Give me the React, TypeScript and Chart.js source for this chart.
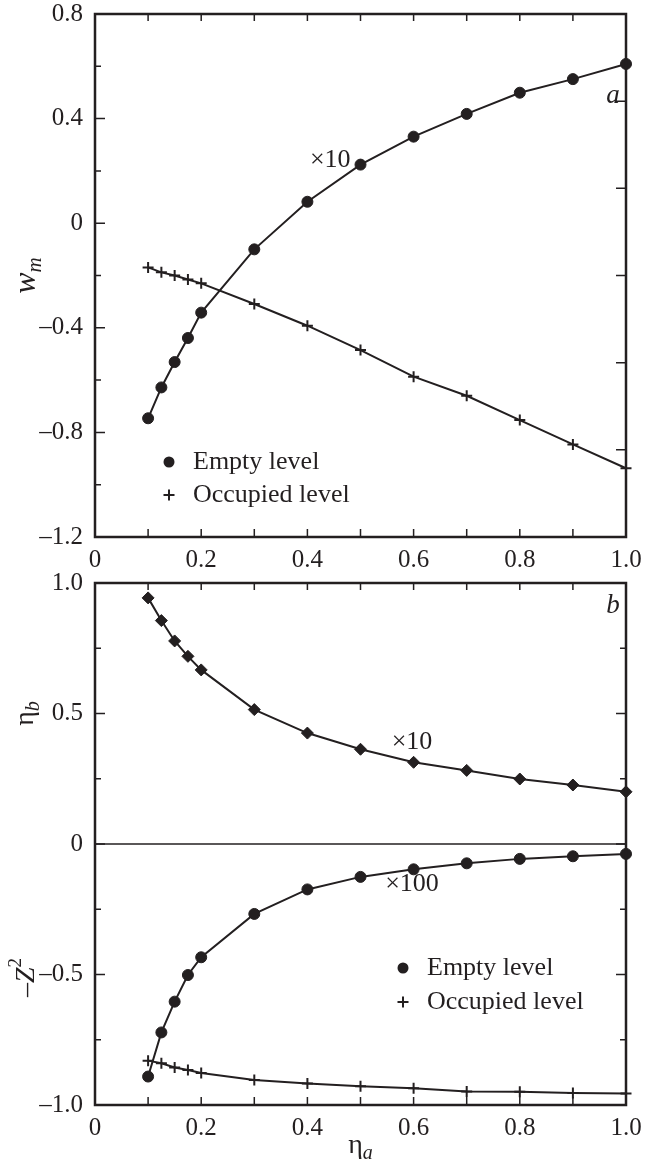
import React, { useEffect, useRef } from 'react';
import { Chart, registerables } from 'chart.js';

Chart.register(...registerables);

// ---------- data ----------
const ETA_A = [0.1, 0.125, 0.15, 0.175, 0.2, 0.3, 0.4, 0.5, 0.6, 0.7, 0.8, 0.9, 1.0];

// panel a: w_m
const WM_EMPTY = [-0.746, -0.628, -0.531, -0.439, -0.342, -0.1, 0.082, 0.224, 0.331, 0.418, 0.499, 0.551, 0.609];
const WM_OCCUPIED = [-0.169, -0.188, -0.2, -0.215, -0.23, -0.309, -0.392, -0.485, -0.587, -0.66, -0.753, -0.846, -0.937];

// panel b: eta_b (upper half) and -Z^2 (lower half)
const ETA_B = [0.943, 0.856, 0.778, 0.719, 0.667, 0.515, 0.425, 0.363, 0.313, 0.282, 0.249, 0.226, 0.2];
const Z2_EMPTY = [-0.891, -0.722, -0.604, -0.502, -0.434, -0.268, -0.174, -0.126, -0.097, -0.074, -0.057, -0.047, -0.038];
const Z2_OCCUPIED = [-0.83, -0.84, -0.856, -0.866, -0.877, -0.904, -0.918, -0.928, -0.936, -0.948, -0.949, -0.954, -0.956];

// tick labels
const X_TICK_VALUES = [0, 0.2, 0.4, 0.6, 0.8, 1.0];
const X_TICK_LABELS = ['0', '0.2', '0.4', '0.6', '0.8', '1.0'];
const A_Y_TICK_VALUES = [-1.2, -0.8, -0.4, 0, 0.4, 0.8];
const A_Y_TICK_LABELS = ['\u20131.2', '\u20130.8', '\u20130.4', '0', '0.4', '0.8'];
const B_Y_TICK_VALUES = [-1, -0.5, 0, 0.5, 1];
const B_Y_TICK_LABELS = ['\u20131.0', '\u20130.5', '0', '0.5', '1.0'];

const LEGEND_LABELS = ['Empty level', 'Occupied level'];

// ---------- styling ----------
const INK = '#231f20';
const SERIF = '"Liberation Serif", "Times New Roman", serif';
const TICK_FONT_SIZE = 25;

function labelFor(values: number[], labels: string[], v: number): string {
  for (let i = 0; i < values.length; i++) {
    if (Math.abs(values[i] - v) < 1e-6) return labels[i];
  }
  return '';
}

function pts(ys: number[]) {
  return ETA_A.map((x, i) => ({ x, y: ys[i] }));
}

function ds(label: string, ys: number[], style: string, radius: number, pbw: number) {
  return {
    label,
    data: pts(ys),
    borderColor: INK,
    backgroundColor: INK,
    borderWidth: 2,
    pointStyle: style,
    pointRadius: radius,
    pointBorderWidth: pbw,
    pointBackgroundColor: INK,
    pointBorderColor: INK,
    tension: 0,
    clip: false as any,
  };
}

type Seg = { t: string; font: string; dy?: number };

function drawRich(ctx: CanvasRenderingContext2D, segs: Seg[], cx: number, cy: number, rotate: boolean, base: number) {
  ctx.save();
  ctx.translate(cx, cy);
  if (rotate) ctx.rotate(-Math.PI / 2);
  ctx.fillStyle = INK;
  ctx.textBaseline = 'alphabetic';
  ctx.textAlign = 'left';
  const widths = segs.map((s) => {
    ctx.font = s.font;
    return ctx.measureText(s.t).width;
  });
  const total = widths.reduce((a, b) => a + b, 0);
  let x = -total / 2;
  segs.forEach((s, i) => {
    ctx.font = s.font;
    ctx.fillText(s.t, x, base + (s.dy || 0));
    x += widths[i];
  });
  ctx.restore();
}

function drawLegend(ctx: CanvasRenderingContext2D, mx: number, my: number, gap: number) {
  ctx.save();
  ctx.fillStyle = INK;
  ctx.strokeStyle = INK;
  ctx.beginPath();
  ctx.arc(mx, my, 5.5, 0, Math.PI * 2);
  ctx.fill();
  ctx.lineWidth = 2;
  ctx.beginPath();
  ctx.moveTo(mx - 5.5, my + gap);
  ctx.lineTo(mx + 5.5, my + gap);
  ctx.moveTo(mx, my + gap - 5.5);
  ctx.lineTo(mx, my + gap + 5.5);
  ctx.stroke();
  ctx.font = `26px ${SERIF}`;
  ctx.textBaseline = 'middle';
  ctx.textAlign = 'left';
  ctx.fillText(LEGEND_LABELS[0], mx + 24, my);
  ctx.fillText(LEGEND_LABELS[1], mx + 24, my + gap);
  ctx.restore();
}

function makeFramePlugin(kind: 'a' | 'b') {
  return {
    id: 'frame_' + kind,
    afterDraw(chart: any) {
      const ctx: CanvasRenderingContext2D = chart.ctx;
      const { left, right, top, bottom } = chart.chartArea;
      const xs = chart.scales.x;
      const ys = chart.scales.y;
      ctx.save();
      ctx.strokeStyle = INK;
      ctx.fillStyle = INK;

      if (kind === 'b') {
        const y0 = ys.getPixelForValue(0);
        ctx.lineWidth = 1.5;
        ctx.beginPath();
        ctx.moveTo(left, y0);
        ctx.lineTo(right, y0);
        ctx.stroke();
      }

      // inward ticks
      ctx.lineWidth = 1.5;
      ctx.beginPath();
      xs.ticks.forEach((t: any) => {
        const px = xs.getPixelForValue(t.value);
        ctx.moveTo(px, bottom);
        ctx.lineTo(px, bottom - 8);
        ctx.moveTo(px, top);
        ctx.lineTo(px, top + 7);
      });
      const yVals = kind === 'a' ? A_Y_TICK_VALUES : B_Y_TICK_VALUES;
      const yLabs = kind === 'a' ? A_Y_TICK_LABELS : B_Y_TICK_LABELS;
      ys.ticks.forEach((t: any) => {
        const py = ys.getPixelForValue(t.value);
        const major = labelFor(yVals, yLabs, t.value) !== '';
        const len = major ? 10 : 6;
        ctx.moveTo(left, py);
        ctx.lineTo(left + len, py);
        if (kind === 'b') {
          ctx.moveTo(right, py);
          ctx.lineTo(right - len, py);
        }
      });
      if (kind === 'a') {
        const n = 6;
        for (let k = 1; k < n; k++) {
          const v = ys.min + (k * (ys.max - ys.min)) / n;
          const py = ys.getPixelForValue(v);
          ctx.moveTo(right, py);
          ctx.lineTo(right - 10, py);
        }
      }
      ctx.stroke();

      // box
      ctx.lineWidth = 2.5;
      ctx.strokeRect(left, top, right - left, bottom - top);

      const ann = `26px ${SERIF}`;
      const annI = `italic 27px ${SERIF}`;
      if (kind === 'a') {
        drawRich(ctx, [{ t: '\u00d710', font: ann }], xs.getPixelForValue(0.443), ys.getPixelForValue(0.249), false, 9);
        drawRich(ctx, [{ t: 'a', font: annI }], right - 13, top + 83, false, 6);
        drawLegend(ctx, left + 74, top + 448, 33);
        drawRich(
          ctx,
          [
            { t: 'w', font: `italic 32px ${SERIF}` },
            { t: 'm', font: `italic 21px ${SERIF}`, dy: 6 },
          ],
          26,
          ys.getPixelForValue(-0.2),
          true,
          9
        );
      } else {
        drawRich(ctx, [{ t: '\u00d710', font: ann }], xs.getPixelForValue(0.597), ys.getPixelForValue(0.397), false, 9);
        drawRich(ctx, [{ t: '\u00d7100', font: ann }], xs.getPixelForValue(0.597), ys.getPixelForValue(-0.145), false, 9);
        drawRich(ctx, [{ t: 'b', font: annI }], right - 13, top + 21, false, 9);
        drawLegend(ctx, left + 308, top + 385, 34);
        drawRich(
          ctx,
          [
            { t: '\u03b7', font: `28px ${SERIF}` },
            { t: 'b', font: `italic 20px ${SERIF}`, dy: 6 },
          ],
          26,
          ys.getPixelForValue(0.5),
          true,
          7
        );
        drawRich(
          ctx,
          [
            { t: '\u2013', font: `28px ${SERIF}` },
            { t: 'Z', font: `italic 28px ${SERIF}` },
            { t: '2', font: `19px ${SERIF}`, dy: -13 },
          ],
          24,
          ys.getPixelForValue(-0.5) + 3,
          true,
          10
        );
        drawRich(
          ctx,
          [
            { t: '\u03b7', font: `28px ${SERIF}` },
            { t: 'a', font: `italic 20px ${SERIF}`, dy: 6 },
          ],
          xs.getPixelForValue(0.5),
          bottom + 44,
          false,
          4
        );
      }
      ctx.restore();
    },
  };
}

function buildConfig(kind: 'a' | 'b', canvasH: number, padTop: number, chartBottom: number) {
  const datasets =
    kind === 'a'
      ? [ds('Empty level', WM_EMPTY, 'circle', 5.5, 1), ds('Occupied level', WM_OCCUPIED, 'cross', 5.5, 2)]
      : [
          ds('eta_b', ETA_B, 'rectRot', 6, 1),
          ds('Empty level', Z2_EMPTY, 'circle', 5.5, 1),
          ds('Occupied level', Z2_OCCUPIED, 'cross', 5.5, 2),
        ];
  const yVals = kind === 'a' ? A_Y_TICK_VALUES : B_Y_TICK_VALUES;
  const yLabs = kind === 'a' ? A_Y_TICK_LABELS : B_Y_TICK_LABELS;
  const tickFont = { family: SERIF, size: TICK_FONT_SIZE };
  return {
    type: 'line' as const,
    data: { datasets },
    options: {
      responsive: false,
      animation: false as const,
      devicePixelRatio: 1,
      events: [],
      layout: { padding: { top: padTop, right: 19, left: 0, bottom: 0 } },
      plugins: { legend: { display: false }, tooltip: { enabled: false }, title: { display: false } },
      scales: {
        x: {
          type: 'linear' as const,
          min: 0,
          max: 1,
          ticks: {
            stepSize: 0.1,
            autoSkip: false,
            maxRotation: 0,
            padding: 8,
            color: INK,
            font: tickFont,
            callback: (v: any) => labelFor(X_TICK_VALUES, X_TICK_LABELS, Number(v)),
          },
          grid: { display: false, drawTicks: false },
          border: { display: false },
          afterFit: (s: any) => {
            s.height = canvasH - chartBottom;
            s.paddingLeft = 0;
            s.paddingRight = 0;
          },
        },
        y: {
          type: 'linear' as const,
          min: kind === 'a' ? -1.2 : -1,
          max: kind === 'a' ? 0.8 : 1,
          ticks: {
            stepSize: kind === 'a' ? 0.2 : 0.25,
            autoSkip: false,
            padding: 12,
            color: INK,
            font: tickFont,
            callback: (v: any) => labelFor(yVals, yLabs, Number(v)),
          },
          grid: { display: false, drawTicks: false },
          border: { display: false },
          afterFit: (s: any) => {
            s.width = 95;
            s.paddingTop = 0;
            s.paddingBottom = 0;
          },
        },
      },
    },
    plugins: [makeFramePlugin(kind)],
  };
}

export default function App() {
  const refA = useRef<HTMLCanvasElement>(null);
  const refB = useRef<HTMLCanvasElement>(null);

  useEffect(() => {
    const a = new Chart(refA.current as HTMLCanvasElement, buildConfig('a', 575, 14, 537) as any);
    const b = new Chart(refB.current as HTMLCanvasElement, buildConfig('b', 605, 23, 545) as any);
    return () => {
      a.destroy();
      b.destroy();
    };
  }, []);

  return (
    <div style={{ position: 'absolute', left: 0, top: 0, width: 645, height: 1165, background: '#fff' }}>
      <canvas ref={refA} width={645} height={575} style={{ position: 'absolute', left: 0, top: 0, width: 645, height: 575 }} />
      <canvas ref={refB} width={645} height={605} style={{ position: 'absolute', left: 0, top: 560, width: 645, height: 605 }} />
    </div>
  );
}
